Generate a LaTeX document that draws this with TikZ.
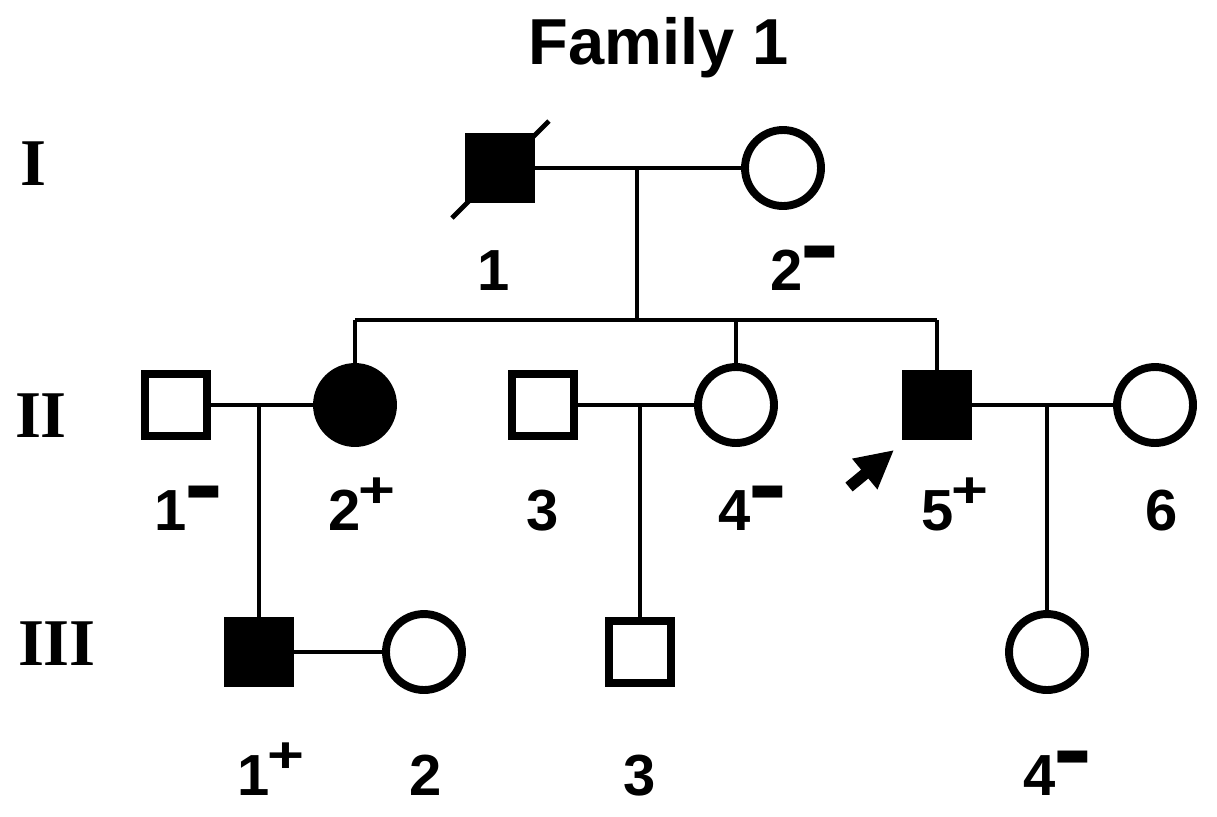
\documentclass[tikz,border=0pt]{standalone}
\usepackage{fontspec}
\usepackage{graphicx}
\setmainfont{Liberation Sans}
\newfontfamily\genfont{Liberation Serif}
\usetikzlibrary{arrows.meta, calc}
\tikzset{
    % Pedigree symbols
    malebox/.style={
        rectangle,
        draw=black,
        fill=white,
        line width=4.5pt,
        minimum width=1.24cm,
        minimum height=1.24cm,
        inner sep=0pt
    },
    femalebox/.style={
        circle,
        draw=black,
        fill=white,
        line width=4.5pt,
        minimum size=1.52cm,
        inner sep=0pt
    },
    affected/.style={
        fill=black
    },
    % Line styles
    relline/.style={
        draw=black,
        line width=2.8pt
    },
    probandarrow/.style={
        -{Triangle[length=0.76cm, width=0.74cm]},
        line width=6.5pt,
        black
    },
    % Text styles
    idlabel/.style={
        anchor=base,
        inner sep=0pt,
        font=\fontsize{33pt}{33pt}\selectfont\bfseries
    },
    genlabel/.style={
        anchor=base,
        inner sep=0pt,
        font=\genfont\fontsize{38pt}{38pt}\selectfont\bfseries
    }
}
\newcommand{\plusmark}{\kern-1pt\raisebox{13pt}{\fontsize{36pt}{36pt}\selectfont\scalebox{1}[0.8]{+}}}
\newcommand{\minusmark}{\raisebox{1pt}{\fontsize{26pt}{26pt}\selectfont\scalebox{1.3}[2.4]{−}}}

\begin{document}
\begin{tikzpicture}[x=0.02cm, y=-0.02cm]
            \fill[white] (0,0) rectangle (1217,816);
            \useasboundingbox (0,0) rectangle (1217,816);

            % Title and generations
            \node[anchor=base, inner sep=0pt, font=\fontsize{37pt}{37pt}\selectfont\bfseries] (title) at (659,64) {Family 1};
            \node[genlabel] (genI) at (33,185) {I};
            \node[genlabel] (genII) at (41,437) {II};
            \node[genlabel] (genIII) at (57,665) {III};

            % Generation I
            \node[malebox, affected] (i1) at (500,168) {};
            \node[femalebox] (i2) at (783,168) {};
            \draw[relline] ($(i1)+(-48,50)$) -- ($(i1)+(49,-47)$);

            % Generation II
            \node[malebox] (ii1) at (176,405) {};
            \node[femalebox, affected] (ii2) at (355,405) {};
            \node[malebox] (ii3) at (543,405) {};
            \node[femalebox] (ii4) at (736,405) {};
            \node[malebox, affected] (ii5) at (937,405) {};
            \node[femalebox] (ii6) at (1155,405) {};

            % Generation III
            \node[malebox, affected] (iii1) at (259,652) {};
            \node[femalebox] (iii2) at (424,652) {};
            \node[malebox] (iii3) at (640,652) {};
            \node[femalebox] (iii4) at (1047,652) {};

            % Marriages and descent
            \coordinate (sib1) at (637,320);
            \draw[relline] (i1.east) -- (i2.west);
            \draw[relline] (i1.east -| sib1) -- (sib1);
            \draw[relline] (ii2.north |- sib1) -- (ii5.north |- sib1);
            \draw[relline] (ii2.north |- sib1) -- (ii2.north);
            \draw[relline] (ii4.north |- sib1) -- (ii4.north);
            \draw[relline] (ii5.north |- sib1) -- (ii5.north);

            \draw[relline] (ii1.east) -- (ii2.west);
            \draw[relline] (iii1.north |- ii1.east) -- (iii1.north);
            \draw[relline] (ii3.east) -- (ii4.west);
            \draw[relline] (iii3.north |- ii3.east) -- (iii3.north);
            \draw[relline] (ii5.east) -- (ii6.west);
            \draw[relline] (iii4.north |- ii5.east) -- (iii4.north);
            \draw[relline] (iii1.east) -- (iii2.west);

            % Proband
            \coordinate (probtail) at (849,487);
            \draw[probandarrow] (probtail) -- ($(ii5.south west)+(-8,10)$);

            % Individual numbers
            \node[idlabel] (l-i1) at (494,290) {1};
            \node[idlabel] (l-i2) at (804,290) {2\minusmark};

            \node[idlabel] (l-ii1) at (188,530) {1\minusmark};
            \node[idlabel] (l-ii2) at (362,530) {2\plusmark};
            \node[idlabel] (l-ii3) at (543,530) {3};
            \node[idlabel] (l-ii4) at (752,530) {4\minusmark};
            \node[idlabel] (l-ii5) at (955,530) {5\plusmark};
            \node[idlabel] (l-ii6) at (1162,530) {6};

            \node[idlabel] (l-iii1) at (271,795) {1\plusmark};
            \node[idlabel] (l-iii2) at (426,795) {2};
            \node[idlabel] (l-iii3) at (640,795) {3};
            \node[idlabel] (l-iii4) at (1057,795) {4\minusmark};
        \end{tikzpicture}
\end{document}
